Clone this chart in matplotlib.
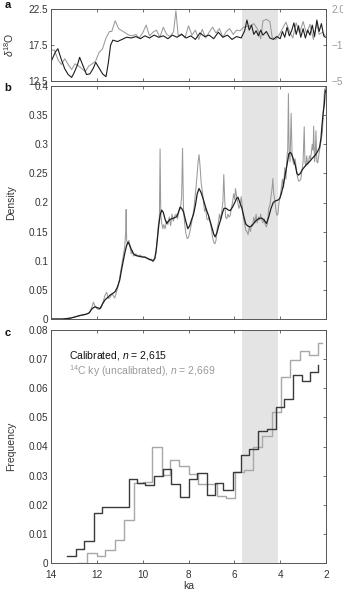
import numpy as np
import matplotlib
matplotlib.use("Agg")
import matplotlib.pyplot as plt
from matplotlib.ticker import FormatStrFormatter, FuncFormatter

plt.rcParams['font.family'] = ['Liberation Sans', 'DejaVu Sans']
plt.rcParams['mathtext.fontset'] = 'custom'
plt.rcParams['mathtext.rm'] = 'Liberation Sans'
plt.rcParams['mathtext.it'] = 'Liberation Sans:italic'

# ---- panel a: d18O records ----
a_dark_ka = [13.97, 13.8, 13.7, 13.55, 13.4, 13.25, 13.1, 13.0, 12.85, 12.75, 12.6, 12.45, 12.3,
             12.15, 12.05, 11.9, 11.75, 11.6, 11.5, 11.4, 11.3, 11.1, 10.9, 10.7, 10.5, 10.3, 10.1,
             9.9, 9.7, 9.5, 9.3, 9.1, 8.9, 8.7, 8.5, 8.3, 8.1, 7.9, 7.7, 7.5, 7.3, 7.1, 6.9, 6.7,
             6.5, 6.3, 6.1, 5.9, 5.7, 5.55, 5.45, 5.35, 5.25, 5.15, 5.05, 4.95, 4.85, 4.75, 4.6,
             4.45, 4.3, 4.15, 4.0, 3.9, 3.8, 3.7, 3.6, 3.5, 3.4, 3.3, 3.2, 3.1, 3.0, 2.9, 2.8, 2.7,
             2.6, 2.5, 2.4, 2.3, 2.2, 2.1, 2.03]
a_dark_val = [15.4, 16.6, 17.0, 15.5, 14.2, 13.4, 13.0, 13.6, 14.7, 15.8, 14.6, 13.4, 13.5,
              14.3, 15.1, 14.3, 13.5, 13.1, 15.0, 17.5, 18.2, 18.0, 18.3, 18.6, 18.5, 18.7, 18.4,
              18.8, 18.5, 18.9, 18.6, 18.8, 18.4, 18.9, 18.6, 19.0, 18.5, 18.8, 18.3, 19.2, 18.7,
              18.9, 18.4, 19.3, 18.6, 18.9, 18.3, 18.7, 18.5, 19.5, 21.0, 19.6, 20.3, 19.0, 19.5,
              18.8, 19.6, 18.9, 19.4, 18.5, 18.3, 18.7, 18.4, 19.4, 18.6, 20.0, 18.8, 19.5, 20.6,
              19.0, 20.2, 18.6, 19.8, 18.5, 19.6, 18.9, 20.3, 18.7, 21.0, 19.4, 20.5, 18.8, 18.6]
a_gray_ka = [13.97, 13.85, 13.7, 13.55, 13.4, 13.25, 13.1, 12.95, 12.8, 12.65, 12.5, 12.35, 12.2,
             12.05, 11.9, 11.75, 11.6, 11.45, 11.35, 11.2, 11.05, 10.9, 10.75, 10.6, 10.45, 10.3,
             10.15, 10.0, 9.85, 9.7, 9.55, 9.4, 9.25, 9.1, 8.95, 8.8, 8.65, 8.55, 8.45, 8.3, 8.15,
             8.0, 7.85, 7.7, 7.55, 7.4, 7.25, 7.1, 6.95, 6.8, 6.65, 6.5, 6.35, 6.2, 6.05, 5.9,
             5.75, 5.6, 5.45, 5.3, 5.15, 5.0, 4.85, 4.75, 4.6, 4.45, 4.35, 4.2, 4.05, 3.9, 3.75,
             3.6, 3.45, 3.3, 3.15, 3.0, 2.85, 2.7, 2.55, 2.4, 2.3, 2.15, 2.03]
a_gray_val = [16.8, 16.8, 15.5, 14.8, 15.6, 14.8, 14.1, 14.9, 14.6, 14.2, 13.8, 14.6, 14.9,
              15.3, 16.5, 17.0, 18.5, 19.4, 19.4, 20.9, 19.8, 19.5, 19.2, 18.9, 18.8, 19.0,
              18.5, 19.2, 20.3, 18.8, 19.3, 19.6, 18.6, 20.0, 19.0, 18.7, 19.4, 22.3, 18.8, 19.1,
              18.5, 20.2, 18.9, 19.6, 18.3, 19.7, 18.5, 19.3, 20.0, 19.2, 19.8, 18.6, 19.4, 19.8,
              19.0, 19.6, 19.5, 20.0, 20.1, 20.2, 20.5, 19.8, 18.4, 20.9, 21.1, 20.8, 18.6, 18.3,
              18.9, 19.8, 20.7, 19.5, 18.5, 20.6, 19.2, 20.8, 19.1, 20.4, 18.3, 20.6, 19.0, 19.3,
              18.8]

# ---- panel b: density ----
b_dark_ka = [14.0, 13.5, 13.2, 13.0, 12.75, 12.5, 12.35, 12.2, 12.08, 11.95, 11.86, 11.75, 11.64,
             11.5, 11.42, 11.3, 11.2, 11.1, 11.0, 10.92, 10.84, 10.77, 10.7, 10.64, 10.58, 10.5,
             10.4, 10.3, 10.1, 9.9, 9.7, 9.55, 9.47, 9.41, 9.35, 9.3, 9.24, 9.17, 9.1, 9.02, 8.95,
             8.88, 8.8, 8.73, 8.6, 8.51, 8.44, 8.37, 8.3, 8.22, 8.12, 8.03, 7.95, 7.87, 7.78, 7.7,
             7.62, 7.54, 7.45, 7.35, 7.24, 7.13, 7.0, 6.9, 6.84, 6.76, 6.68, 6.6, 6.52, 6.45, 6.36,
             6.26, 6.18, 6.08, 5.98, 5.9, 5.84, 5.76, 5.67, 5.58, 5.5, 5.42, 5.32, 5.24, 5.14,
             5.02, 4.9, 4.8, 4.7, 4.6, 4.5, 4.4, 4.3, 4.2, 4.1, 4.02, 3.95, 3.86, 3.78, 3.7, 3.62,
             3.55, 3.49, 3.42, 3.34, 3.27, 3.2, 3.12, 3.04, 2.96, 2.88, 2.8, 2.72, 2.62, 2.52,
             2.44, 2.36, 2.28, 2.22, 2.18, 2.12, 2.07, 2.04, 2.02]
b_dark_val = [0.0, 0.0, 0.001, 0.003, 0.006, 0.008, 0.01, 0.018, 0.021, 0.019, 0.018, 0.026, 0.033,
              0.038, 0.041, 0.044, 0.047, 0.055, 0.067, 0.085, 0.101, 0.115, 0.126, 0.132, 0.128,
              0.12, 0.112, 0.109, 0.107, 0.106, 0.1025, 0.1, 0.104, 0.118, 0.14, 0.16, 0.178,
              0.187, 0.183, 0.171, 0.164, 0.168, 0.171, 0.172, 0.174, 0.176, 0.183, 0.192, 0.19,
              0.184, 0.168, 0.155, 0.16, 0.17, 0.18, 0.195, 0.215, 0.224, 0.217, 0.205, 0.19,
              0.178, 0.16, 0.146, 0.141, 0.148, 0.16, 0.17, 0.182, 0.19, 0.19, 0.187, 0.186,
              0.192, 0.2, 0.207, 0.209, 0.2, 0.19, 0.175, 0.163, 0.16, 0.158, 0.16, 0.165, 0.17,
              0.173, 0.173, 0.17, 0.164, 0.175, 0.19, 0.2, 0.203, 0.204, 0.207, 0.215, 0.23,
              0.248, 0.265, 0.284, 0.286, 0.282, 0.274, 0.264, 0.25, 0.247, 0.25, 0.256, 0.26,
              0.264, 0.267, 0.27, 0.275, 0.279, 0.283, 0.288, 0.295, 0.31, 0.33, 0.355, 0.37,
              0.388, 0.392]
b_gray_ka = [14.0, 13.5, 13.0, 12.7, 12.45, 12.3, 12.2, 12.15, 12.08, 12.0, 11.9, 11.8, 11.72,
             11.65, 11.57, 11.5, 11.42, 11.35, 11.28, 11.22, 11.15, 11.1, 11.05, 11.0, 10.95,
             10.9, 10.84, 10.78, 10.74, 10.72, 10.7, 10.65, 10.6, 10.55, 10.5, 10.45, 10.4, 10.3,
             10.2, 10.1, 10.0, 9.9, 9.8, 9.7, 9.62, 9.55, 9.48, 9.42, 9.37, 9.32, 9.27, 9.24,
             9.21, 9.17, 9.12, 9.08, 9.02, 8.96, 8.9, 8.84, 8.78, 8.72, 8.66, 8.6, 8.54, 8.48,
             8.42, 8.35, 8.3, 8.26, 8.22, 8.17, 8.12, 8.06, 8.0, 7.94, 7.88, 7.82, 7.76, 7.7,
             7.64, 7.58, 7.54, 7.5, 7.45, 7.4, 7.35, 7.3, 7.25, 7.2, 7.15, 7.1, 7.05, 7.0, 6.95,
             6.9, 6.85, 6.8, 6.75, 6.7, 6.65, 6.6, 6.55, 6.5, 6.46, 6.42, 6.38, 6.33, 6.28, 6.23,
             6.18, 6.13, 6.08, 6.03, 5.98, 5.95, 5.9, 5.85, 5.8, 5.75, 5.7, 5.65, 5.6, 5.55, 5.5,
             5.45, 5.4, 5.35, 5.3, 5.25, 5.2, 5.15, 5.1, 5.05, 5.0, 4.95, 4.9, 4.85, 4.8, 4.75,
             4.7, 4.65, 4.6, 4.55, 4.5, 4.45, 4.4, 4.35, 4.32, 4.28, 4.22, 4.18, 4.14, 4.1, 4.05,
             4.0, 3.95, 3.9, 3.85, 3.8, 3.75, 3.7, 3.67, 3.64, 3.61, 3.57, 3.52, 3.48, 3.44, 3.4,
             3.35, 3.3, 3.25, 3.2, 3.15, 3.1, 3.05, 3.0, 2.95, 2.92, 2.88, 2.84, 2.8, 2.76, 2.72,
             2.68, 2.64, 2.6, 2.56, 2.54, 2.5, 2.47, 2.44, 2.4, 2.36, 2.32, 2.28, 2.24, 2.2, 2.16,
             2.12, 2.08, 2.05, 2.03, 2.01]
b_gray_val = [0.0, 0.0, 0.003, 0.006, 0.008, 0.012, 0.022, 0.029, 0.022, 0.018, 0.016, 0.02, 0.03,
              0.04, 0.046, 0.035, 0.037, 0.043, 0.04, 0.036, 0.045, 0.052, 0.06, 0.072, 0.085,
              0.095, 0.11, 0.125, 0.15, 0.188, 0.135, 0.128, 0.135, 0.124, 0.112, 0.118, 0.108,
              0.112, 0.108, 0.11, 0.106, 0.107, 0.104, 0.101, 0.103, 0.098, 0.102, 0.113, 0.135,
              0.16, 0.175, 0.292, 0.18, 0.165, 0.155, 0.162, 0.155, 0.168, 0.162, 0.175, 0.16,
              0.18, 0.168, 0.177, 0.18, 0.172, 0.185, 0.19, 0.21, 0.293, 0.19, 0.165, 0.148,
              0.138, 0.14, 0.15, 0.162, 0.175, 0.19, 0.215, 0.24, 0.27, 0.282, 0.265, 0.235, 0.22,
              0.202, 0.185, 0.19, 0.172, 0.17, 0.175, 0.165, 0.155, 0.14, 0.132, 0.129, 0.135,
              0.155, 0.165, 0.18, 0.17, 0.185, 0.2, 0.248, 0.205, 0.175, 0.172, 0.18, 0.175,
              0.178, 0.19, 0.2, 0.215, 0.205, 0.224, 0.21, 0.2, 0.19, 0.195, 0.21, 0.192, 0.172,
              0.163, 0.152, 0.15, 0.145, 0.158, 0.15, 0.162, 0.16, 0.175, 0.165, 0.18, 0.165,
              0.175, 0.17, 0.18, 0.17, 0.165, 0.172, 0.162, 0.158, 0.165, 0.19, 0.195, 0.21,
              0.225, 0.241, 0.215, 0.2, 0.185, 0.178, 0.18, 0.2, 0.21, 0.225, 0.24, 0.225, 0.26,
              0.24, 0.28, 0.29, 0.387, 0.29, 0.27, 0.353, 0.28, 0.27, 0.265, 0.275, 0.26, 0.245,
              0.237, 0.237, 0.24, 0.255, 0.27, 0.33, 0.27, 0.262, 0.28, 0.265, 0.27, 0.28, 0.275,
              0.285, 0.3, 0.29, 0.331, 0.27, 0.28, 0.323, 0.27, 0.268, 0.28, 0.29, 0.3, 0.31,
              0.32, 0.35, 0.385, 0.395, 0.39, 0.4]

# ---- panel c: frequency histograms (stairs: edge, value) ----
c_cal_ka = [13.31, 12.9, 12.55, 12.14, 11.77, 11.39, 11.0, 10.6, 10.26, 9.88, 9.5, 9.12, 8.77,
            8.37, 7.99, 7.62, 7.2, 6.84, 6.48, 6.08, 5.72, 5.34, 4.97, 4.58, 4.19, 3.83, 3.45,
            3.05, 2.69, 2.33]
c_cal_val = [0.0025, 0.0047, 0.0075, 0.0173, 0.0192, 0.0192, 0.0192, 0.029, 0.0274, 0.0267,
             0.0298, 0.0323, 0.027, 0.0228, 0.0287, 0.031, 0.0232, 0.0275, 0.0251, 0.0311,
             0.0372, 0.0391, 0.0454, 0.0459, 0.0537, 0.0563, 0.0645, 0.0626, 0.0657, 0.068]
c_unc_ka = [12.81, 12.44, 12.0, 11.63, 11.2, 10.81, 10.39, 9.97, 9.6, 9.17, 8.8, 8.4, 7.99, 7.57,
            7.17, 6.77, 6.37, 5.97, 5.6, 5.19, 4.8, 4.35, 3.96, 3.56, 3.12, 2.76, 2.33, 2.18]
c_unc_val = [0.0, 0.0035, 0.0025, 0.0045, 0.0078, 0.0146, 0.0276, 0.0279, 0.0398, 0.0302,
             0.0354, 0.0333, 0.0306, 0.0272, 0.0272, 0.0231, 0.0222, 0.0314, 0.0319, 0.040,
             0.0436, 0.0517, 0.064, 0.0697, 0.0729, 0.0714, 0.0756, 0.0756]

shade = (5.65, 4.1)
x_ticks = [14, 12, 10, 8, 6, 4, 2]

DARK = '#1e1e1e'
GRAY = '#9a9a9a'
AXC = '#555555'
TXT = '#333333'
FS = 7.2
LAB_X = (16 - 51) / 275   # y-label position in axes fraction


def style(ax, labels_x=False):
    ax.set_xlim(14, 2)
    ax.set_xticks(x_ticks)
    ax.axvspan(shade[0], shade[1], color='#e4e4e4', lw=0, zorder=0)
    ax.tick_params(direction='in', length=2.5, width=0.6, colors=AXC, labelcolor=TXT,
                   labelsize=FS, top=True, right=True, left=False, bottom=True,
                   labelbottom=labels_x, pad=2)
    ax.tick_params(axis='x', pad=5)
    for s in ax.spines.values():
        s.set_color(AXC)
        s.set_linewidth(0.7)


fig = plt.figure(figsize=(3.43, 5.93), dpi=100)
L, W = 51 / 343, 275 / 343
ax_a = fig.add_axes([L, 1 - 81 / 593, W, 71.7 / 593])
ax_b = fig.add_axes([L, 1 - 319 / 593, W, 233 / 593])
ax_c = fig.add_axes([L, 1 - 563 / 593, W, 233 / 593])

# panel a
style(ax_a)
ax_a.plot(a_gray_ka, a_gray_val, color=GRAY, lw=0.75)
ax_a.plot(a_dark_ka, a_dark_val, color=DARK, lw=0.8)
ax_a.set_ylim(12.5, 22.5)
ax_a.set_yticks([12.5, 17.5, 22.5])
ax_a.yaxis.set_major_formatter(FormatStrFormatter('%.1f'))
ax_a.set_ylabel(r'$\delta^{18}$O', fontsize=FS + 0.3, color=TXT)
ax_a.yaxis.set_label_coords(LAB_X, 0.5)
ax_a2 = ax_a.twinx()
ax_a2.set_ylim(-5.0, 2.0)
ax_a2.set_yticks([-5.0, -1.5, 2.0])
ax_a2.yaxis.set_major_formatter(FuncFormatter(lambda v, p: ('%.1f' % v).replace('-', '\u2212')))
ax_a2.tick_params(direction='in', length=2.5, width=0.6, colors=AXC, labelcolor=GRAY,
                  labelsize=FS, pad=4)
for s in ax_a2.spines.values():
    s.set_visible(False)

# panel b
style(ax_b)
ax_b.plot(b_gray_ka, b_gray_val, color=GRAY, lw=0.75)
ax_b.plot(b_dark_ka, b_dark_val, color=DARK, lw=0.9)
ax_b.set_ylim(0, 0.4)
ax_b.set_yticks(np.arange(0, 0.401, 0.05))
ax_b.yaxis.set_major_formatter(FuncFormatter(lambda v, p: '%g' % round(v, 2)))
ax_b.set_ylabel('Density', fontsize=FS + 0.3, color=TXT)
ax_b.yaxis.set_label_coords(LAB_X, 0.5)

# panel c
style(ax_c, labels_x=True)
ax_c.step(c_unc_ka, c_unc_val, where='post', color='#a8a8a8', lw=1.0)
ax_c.step(c_cal_ka, c_cal_val, where='post', color='#3a3a3a', lw=1.0)
ax_c.set_ylim(0, 0.08)
ax_c.set_yticks(np.arange(0, 0.0801, 0.01))
ax_c.yaxis.set_major_formatter(FuncFormatter(lambda v, p: '%g' % round(v, 2)))
ax_c.set_ylabel('Frequency', fontsize=FS + 0.3, color=TXT)
ax_c.yaxis.set_label_coords(LAB_X, 0.5)
ax_c.set_xlabel('ka', fontsize=FS + 0.3, color=TXT, labelpad=1)
ax_c.text(13.22, 0.0714, r'Calibrated, $n$ = 2,615', fontsize=FS + 0.3, color='#111111',
          va='center')
ax_c.text(13.22, 0.0659, r'$^{14}$C ky (uncalibrated), $n$ = 2,669', fontsize=FS + 0.3,
          color=GRAY, va='center')

# panel letters
for lab, ypx in [('a', 5), ('b', 88), ('c', 333)]:
    fig.text(8 / 343, 1 - ypx / 593, lab, fontsize=8, fontweight='bold', va='center',
             ha='center', color='#111111')

fig.savefig('out.png', dpi=100)
